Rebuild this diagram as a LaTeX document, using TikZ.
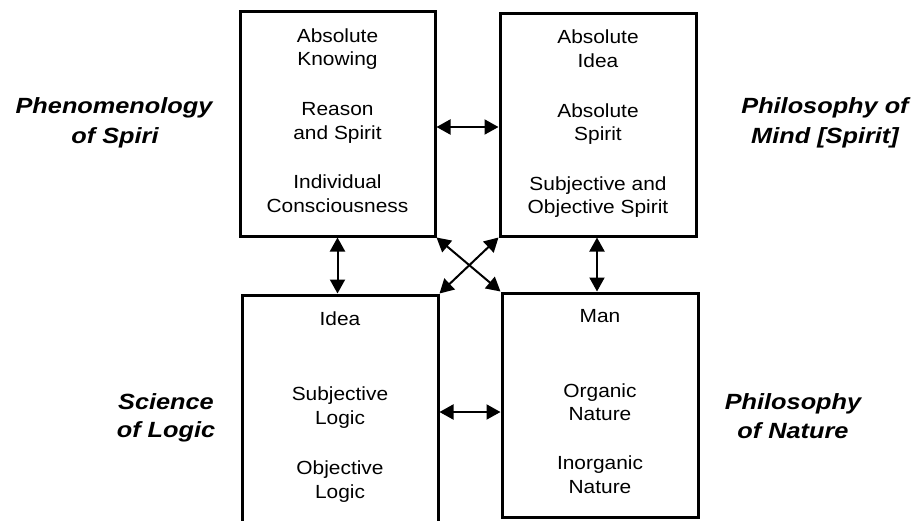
\documentclass[tikz,border=0pt]{standalone}
\usepackage{fontspec}
\usetikzlibrary{arrows.meta}
\newfontfamily\boxfont[FakeStretch=1.1]{Liberation Sans}
\newfontfamily\labfont[FakeStretch=1.15]{Liberation Sans}

\tikzset{
  panel/.style={draw, line width=3pt, rectangle, inner sep=0pt},
  entry/.style={anchor=base, inner sep=0pt, font=\boxfont\fontsize{19}{23}\selectfont},
  work/.style={anchor=base, inner sep=0pt, font=\labfont\bfseries\itshape\fontsize{22}{29}\selectfont},
  link/.style={{Triangle[length=14pt,width=15pt]}-{Triangle[length=14pt,width=15pt]}, line width=2pt}
}

\begin{document}
\begin{tikzpicture}[x=1pt, y=-1pt]
\useasboundingbox (0,0) rectangle (914,520);
\clip (0,0) rectangle (914,520);

% the four panels
\node[panel, minimum width=195pt, minimum height=225pt] (tl) at (337.5,123.5) {};
\node[panel, minimum width=196pt, minimum height=223pt] (tr) at (598,124.5) {};
\node[panel, minimum width=196pt, minimum height=236pt] (bl) at (340,413) {};
\node[panel, minimum width=196pt, minimum height=224pt] (br) at (600,405) {};

% Phenomenology panel
\node[entry] (tl1) at (337.5,42) {Absolute};
\node[entry] (tl2) at (337.5,65) {Knowing};
\node[entry] (tl3) at (337.5,115) {Reason};
\node[entry] (tl4) at (337.5,139) {and Spirit};
\node[entry] (tl5) at (337.5,188) {Individual};
\node[entry] (tl6) at (337.5,212) {Consciousness};

% Philosophy of Mind panel
\node[entry] (tr1) at (598,43) {Absolute};
\node[entry] (tr2) at (598,67) {Idea};
\node[entry] (tr3) at (598,117) {Absolute};
\node[entry] (tr4) at (598,140) {Spirit};
\node[entry] (tr5) at (598,190) {Subjective and};
\node[entry] (tr6) at (598,213) {Objective Spirit};

% Logic panel
\node[entry] (bl1) at (340,325) {Idea};
\node[entry] (bl2) at (340,400) {Subjective};
\node[entry] (bl3) at (340,424) {Logic};
\node[entry] (bl4) at (340,474) {Objective};
\node[entry] (bl5) at (340,498) {Logic};

% Nature panel
\node[entry] (br1) at (600,322) {Man};
\node[entry] (br2) at (600,397) {Organic};
\node[entry] (br3) at (600,420) {Nature};
\node[entry] (br4) at (600,469) {Inorganic};
\node[entry] (br5) at (600,493) {Nature};

% titles of the works
\node[work] (w1a) at (114,113) {Phenomenology};
\node[work] (w1b) at (115,143) {of Spiri};
\node[work] (w2a) at (825,113) {Philosophy of};
\node[work] (w2b) at (825,143) {Mind [Spirit]};
\node[work] (w3a) at (166,409) {Science};
\node[work] (w3b) at (166,437) {of Logic};
\node[work] (w4a) at (793,409) {Philosophy};
\node[work] (w4b) at (793,438) {of Nature};

% connections between the panels
\draw[link] ([yshift=-3.5pt]tl.east) -- ([yshift=-3.5pt]tl.east -| tr.west);
\draw[link] (bl.east |- 0,412) -- (br.west |- 0,412);
\draw[link] (tl.south) -- (tl.south |- bl.north);
\draw[link] (tr.south -| 597,0) -- (br.north -| 597,0);
\draw[link] (tl.south east) -- (br.north west);
\draw[link] (tr.south west) -- (bl.north east);
\end{tikzpicture}
\end{document}
